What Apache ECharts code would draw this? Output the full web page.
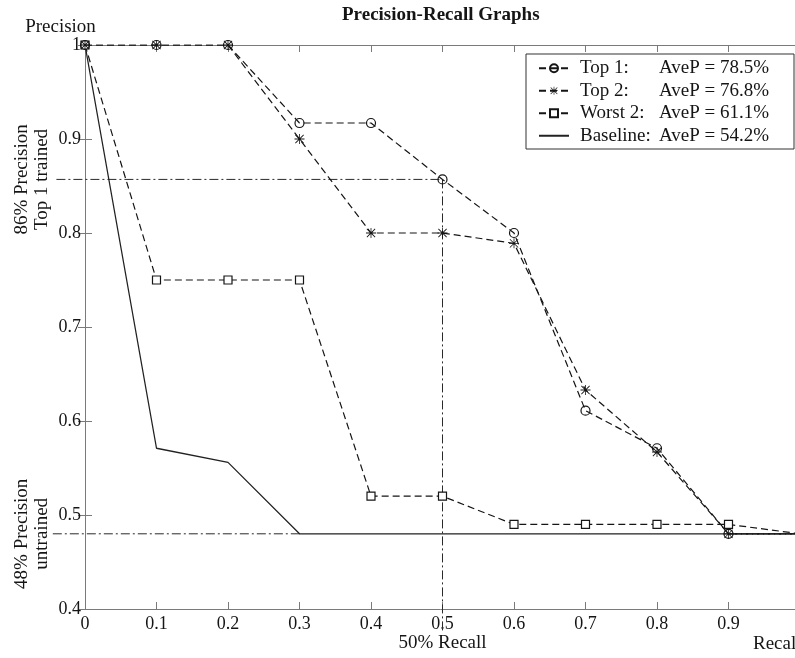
<!DOCTYPE html>
<html>
<head>
<meta charset="utf-8">
<title>Precision-Recall Graphs</title>
<script src="https://cdn.jsdelivr.net/npm/echarts@6/dist/echarts.min.js"></script>
<style>
  html, body { margin: 0; padding: 0; background: #fff; }
  #chart { width: 795px; height: 658px; }
</style>
</head>
<body>
<div id="chart"></div>
<script>
// recall steps (x) and precision values (y)
const recall = [0, 0.1, 0.2, 0.3, 0.4, 0.5, 0.6, 0.7, 0.8, 0.9, 1];
const top1 = [1, 1, 1, 0.917, 0.917, 0.857, 0.8, 0.611, 0.571, 0.48, 0.48];
const top2 = [1, 1, 1, 0.9, 0.8, 0.8, 0.789, 0.633, 0.567, 0.48, 0.48];
const worst2 = [1, 0.75, 0.75, 0.75, 0.52, 0.52, 0.49, 0.49, 0.49, 0.49, 0.48];
const baseline = [1, 0.571, 0.556, 0.48, 0.48, 0.48, 0.48, 0.48, 0.48, 0.48, 0.48];

const seriesNames = ['Top 1:', 'Top 2:', 'Worst 2:', 'Baseline:'];
const aveP = ['78.5%', '76.8%', '61.1%', '54.2%'];

// dash-dot guide lines [x1, y1, x2, y2]
const guideLines = [
  [-0.04, 0.857, 0.5, 0.857],
  [0.5, 0.857, 0.5, 0.375],
  [-0.045, 0.48, 0.3, 0.48]
];
const guideLabels = [
  { text: '86% Precision\nTop 1 trained', level: 0.857 },
  { text: '48% Precision\nuntrained', level: 0.48 }
];
const recallMark = { text: '50% Recall', at: 0.5 };

const xRange = [0, 1], xStep = 0.1;
const yRange = [0.4, 1], yStep = 0.1;

const serif = '"Liberation Serif", "DejaVu Serif", serif';
const ink = '#151515';
const axisGray = '#7a7a7a';

// matlab style '*' marker
const starPath = 'path://M9.2 0L10.8 0L10.8 20L9.2 20ZM0 9.2L20 9.2L20 10.8L0 10.8Z' +
  'M2.3 1.2L18.8 17.7L17.7 18.8L1.2 2.3ZM17.7 1.2L18.8 2.3L2.3 18.8L1.2 17.7Z';

const pairs = (ys) => recall.map((x, i) => [x, ys[i]]);
const fmt = (v) => String(Math.round(v * 10) / 10);

const chartDom = document.getElementById('chart');
const myChart = echarts.init(chartDom, null, { renderer: 'canvas' });

const axisBase = {
  type: 'value',
  axisLine: { show: true, lineStyle: { color: axisGray, width: 1 } },
  axisTick: { show: true, inside: true, length: 7, lineStyle: { color: axisGray } },
  splitLine: { show: false }
};

const dashed = [7, 4];

const option = {
  animation: false,
  backgroundColor: '#fff',
  title: {
    text: 'Precision-Recall Graphs',
    left: 342,
    top: 6,
    padding: 0,
    textStyle: { fontFamily: serif, fontSize: 19, fontWeight: 'bold', color: ink }
  },
  // the plot box runs a few pixels past the right edge of the picture
  grid: { left: 85, top: 45, width: 715, height: 564, outerBoundsMode: 'none', containLabel: false },
  legend: {
    orient: 'vertical',
    left: 526,
    top: 54,
    data: [
      { name: 'Top 1:' },
      { name: 'Top 2:' },
      { name: 'Worst 2:' },
      { name: 'Baseline:', itemStyle: { opacity: 0 } }
    ],
    itemWidth: 30,
    itemHeight: 10,
    itemGap: 0,
    padding: [3, 20, 2, 12],
    borderColor: '#333',
    borderWidth: 1,
    backgroundColor: '#fff',
    selectedMode: false,
    formatter: (name) => '{n|' + name + '}{v|AveP = ' + aveP[seriesNames.indexOf(name)] + '}',
    textStyle: {
      fontFamily: serif, fontSize: 19, color: ink, lineHeight: 22.5,
      rich: {
        n: { width: 79, padding: [0, 0, 0, 6], fontFamily: serif, fontSize: 19, color: ink },
        v: { width: 115, fontFamily: serif, fontSize: 19, color: ink }
      }
    }
  },
  xAxis: [
    Object.assign({}, axisBase, {
      min: xRange[0], max: xRange[1], interval: xStep,
      name: 'Recall',
      nameLocation: 'end',
      nameGap: -47,
      nameTextStyle: { fontFamily: serif, fontSize: 19, color: ink, align: 'left', verticalAlign: 'top', padding: [26, 0, 0, 0] },
      axisLabel: { formatter: fmt, fontFamily: serif, fontSize: 18, color: ink, margin: 6 }
    }),
    Object.assign({}, axisBase, {
      position: 'top', min: xRange[0], max: xRange[1], interval: xStep,
      axisLabel: { show: false }
    })
  ],
  yAxis: [
    Object.assign({}, axisBase, {
      min: yRange[0], max: yRange[1], interval: yStep,
      name: 'Precision',
      nameLocation: 'end',
      nameGap: 7,
      nameTextStyle: { fontFamily: serif, fontSize: 19, color: ink, align: 'center', padding: [0, 49, 0, 0] },
      axisLabel: { formatter: fmt, fontFamily: serif, fontSize: 18, color: ink, margin: 4 }
    }),
    Object.assign({}, axisBase, {
      position: 'right', min: yRange[0], max: yRange[1], interval: yStep,
      axisLabel: { show: false }
    })
  ],
  series: [
    {
      name: 'guides',
      type: 'custom',
      silent: true,
      clip: false,
      data: guideLines,
      encode: { x: 0, y: 1 },
      renderItem: (params, api) => {
        const a = api.coord([api.value(0), api.value(1)]);
        const b = api.coord([api.value(2), api.value(3)]);
        return {
          type: 'polyline',
          shape: { points: [a, b] },
          style: { stroke: '#2a2a2a', lineWidth: 1, fill: null, lineDash: [9, 3, 2, 3] }
        };
      },
      z: 1
    },
    {
      name: 'Baseline:',
      type: 'line',
      data: pairs(baseline),
      showSymbol: false,
      symbol: 'none',
      lineStyle: { color: '#222', width: 1.3, type: 'solid' },
      itemStyle: { color: '#222' },
      z: 2
    },
    {
      name: 'Worst 2:',
      type: 'line',
      data: pairs(worst2),
      symbol: 'rect',
      symbolSize: 8,
      lineStyle: { color: ink, width: 1.2, type: dashed },
      itemStyle: { color: '#fff', borderColor: ink, borderWidth: 1.2 },
      z: 3
    },
    {
      name: 'Top 1:',
      type: 'line',
      data: pairs(top1),
      symbol: 'circle',
      symbolSize: 9,
      lineStyle: { color: ink, width: 1.2, type: dashed },
      itemStyle: { color: 'rgba(255,255,255,0)', borderColor: ink, borderWidth: 1.2 },
      z: 4
    },
    {
      name: 'Top 2:',
      type: 'line',
      data: pairs(top2),
      symbol: starPath,
      symbolSize: 10,
      lineStyle: { color: ink, width: 1.2, type: dashed },
      itemStyle: { color: ink },
      z: 5
    }
  ]
};

myChart.setOption(option);

// annotation texts placed from the chart's own scales
const toPx = (pt) => myChart.convertToPixel({ gridIndex: 0 }, pt);
const left0 = toPx([0, yRange[0]]);
const graphics = guideLabels.map((g) => {
  const p = toPx([0, g.level]);
  return {
    type: 'text',
    x: left0[0] - 53,
    y: p[1],
    rotation: Math.PI / 2,
    silent: true,
    style: {
      text: g.text, fontFamily: serif, fontSize: 19, fill: ink,
      align: 'center', verticalAlign: 'middle', lineHeight: 20
    }
  };
});
const rp = toPx([recallMark.at, yRange[0]]);
graphics.push({
  type: 'text',
  x: rp[0],
  y: rp[1] + 34,
  silent: true,
  style: {
    text: recallMark.text, fontFamily: serif, fontSize: 19, fill: ink,
    align: 'center', verticalAlign: 'middle'
  }
});
myChart.setOption({ graphic: graphics });

window.addEventListener('resize', () => {
  myChart.resize();
});
</script>
</body>
</html>
